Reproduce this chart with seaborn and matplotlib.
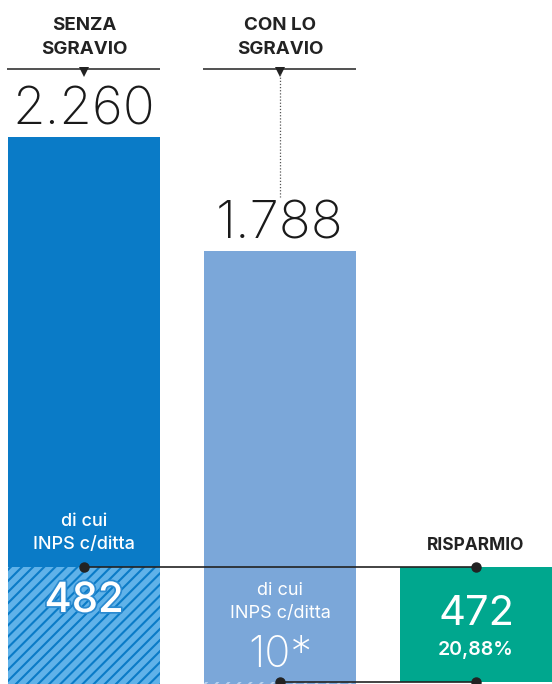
import matplotlib
matplotlib.use("Agg")
import matplotlib.pyplot as plt
import matplotlib.patheffects as pe
import seaborn as sns
import pandas as pd

# ---- data ----
categories = ["SENZA SGRAVIO", "CON LO SGRAVIO", "RISPARMIO"]
header_labels = ["SENZA\nSGRAVIO", "CON LO\nSGRAVIO"]
totals = [2260, 1788]
total_labels = ["2.260", "1.788"]
inps = [482, 10]
inps_labels = ["482", "10*"]
savings = 472
savings_label = "472"
savings_pct = "20,88%"
sub_label = "di cui\nINPS c/ditta"

# ---- style ----
sns.set_theme(style="white")
plt.rcParams["font.family"] = ["Inter", "DejaVu Sans"]
plt.rcParams["hatch.linewidth"] = 1.5

C_BAR1 = "#0a7bc7"
C_BAR2 = "#7ba7d9"
C_HATCH1_FACE = "#60b2e9"
C_HATCH2_LINE = "#b9d3f0"
C_GREEN = "#00a78e"
C_DARK = "#222222"

W, H = 552, 684
fig = plt.figure(figsize=(W / 100, H / 100), dpi=100)
ax = fig.add_axes([0, 0, 1, 1])

PX_PER_UNIT = 547 / 2260.0
BAR_W = 152 / 196.0


def X(px):
    return (px - 84) / 196.0


def Y(py):
    return (H - py) / PX_PER_UNIT


df = pd.DataFrame({"cat": categories[:2], "total": totals, "inps": inps})

sns.barplot(data=df, x="cat", y="total", hue="cat", order=categories,
            palette=[C_BAR1, C_BAR2], width=BAR_W, legend=False,
            linewidth=0, saturation=1, ax=ax)
n_main = len(ax.patches)

sns.barplot(data=df, x="cat", y="inps", hue="cat", order=categories,
            palette=[C_HATCH1_FACE, C_BAR2], width=BAR_W, legend=False,
            linewidth=0, saturation=1, ax=ax)
seg_patches = ax.patches[n_main:]
seg_patches = [p for p in seg_patches if p.get_height() > 0]
seg_patches.sort(key=lambda p: p.get_x())
hatch_edges = [C_BAR1, C_HATCH2_LINE]
for p, ec in zip(seg_patches, hatch_edges):
    p.set_hatch("///")
    p.set_edgecolor(ec)
    p.set_linewidth(0)

ax.bar(2, savings, bottom=inps[1], width=BAR_W, color=C_GREEN, linewidth=0)

ax.set_xlim(-84 / 196.0, 2 + 76 / 196.0)
ax.set_ylim(0, H / PX_PER_UNIT)
ax.set_axis_off()

# ---- headers ----
for i, lab in enumerate(header_labels):
    ax.text(i, Y(37.5), lab, ha="center", va="center", fontsize=13.5,
            fontweight="bold", color=C_DARK, linespacing=1.6)
    ax.plot([X(7 + 196 * i), X(160 + 196 * i)], [Y(69), Y(69)],
            color=C_DARK, lw=1.1, solid_capstyle="butt")
    ax.plot([i], [Y(72)], marker="v", color=C_DARK, markersize=6.5,
            markeredgewidth=0)

# dotted leader for second header
ax.plot([1, 1], [Y(74), Y(197)], color="#555555", lw=0.9, ls=(0, (1, 1.5)))

# ---- totals ----
for i, (v, lab) in enumerate(zip(totals, total_labels)):
    ax.text(i, v + 13 / PX_PER_UNIT, lab, ha="center", va="baseline",
            fontsize=38, fontweight="light", color="#1a1a1a")

# ---- di cui labels ----
ax.text(0, inps[0] + 34 / PX_PER_UNIT, sub_label, ha="center", va="center",
        fontsize=13, fontweight="medium", color="white", linespacing=1.45)
ax.text(1, inps[1] + 80 / PX_PER_UNIT, sub_label, ha="center", va="center",
        fontsize=13, fontweight="normal", color="white", linespacing=1.45)

ax.text(0, Y(612), inps_labels[0], ha="center", va="baseline", fontsize=30,
        fontweight="medium", color="white",
        path_effects=[pe.withStroke(linewidth=2.5, foreground="#2a8ad0")])
ax.text(1, Y(667), inps_labels[1], ha="center", va="baseline", fontsize=31,
        fontweight="light", color="white")

# ---- savings ----
ax.text(2, savings + inps[1] + 17 / PX_PER_UNIT, "RISPARMIO", ha="center",
        va="baseline", fontsize=12.5, fontweight="bold", color=C_DARK)
ax.text(2, Y(625), savings_label, ha="center", va="baseline", fontsize=30,
        fontweight="normal", color="white")
ax.text(2, Y(655), savings_pct, ha="center", va="baseline", fontsize=14,
        fontweight="semibold", color="white")

# ---- connectors ----
ax.plot([0, 2], [inps[0], inps[0]], color=C_DARK, lw=1.2, zorder=5)
ax.plot([0, 2], [inps[0], inps[0]], ls="none", marker="o", ms=6.5,
        color=C_DARK, zorder=6)
ax.plot([1, 2], [inps[1], inps[1]], color=C_DARK, lw=1.2, zorder=5)
ax.plot([1, 2], [inps[1], inps[1]], ls="none", marker="o", ms=6.5,
        color=C_DARK, zorder=6)

fig.savefig("out.png", dpi=100)
